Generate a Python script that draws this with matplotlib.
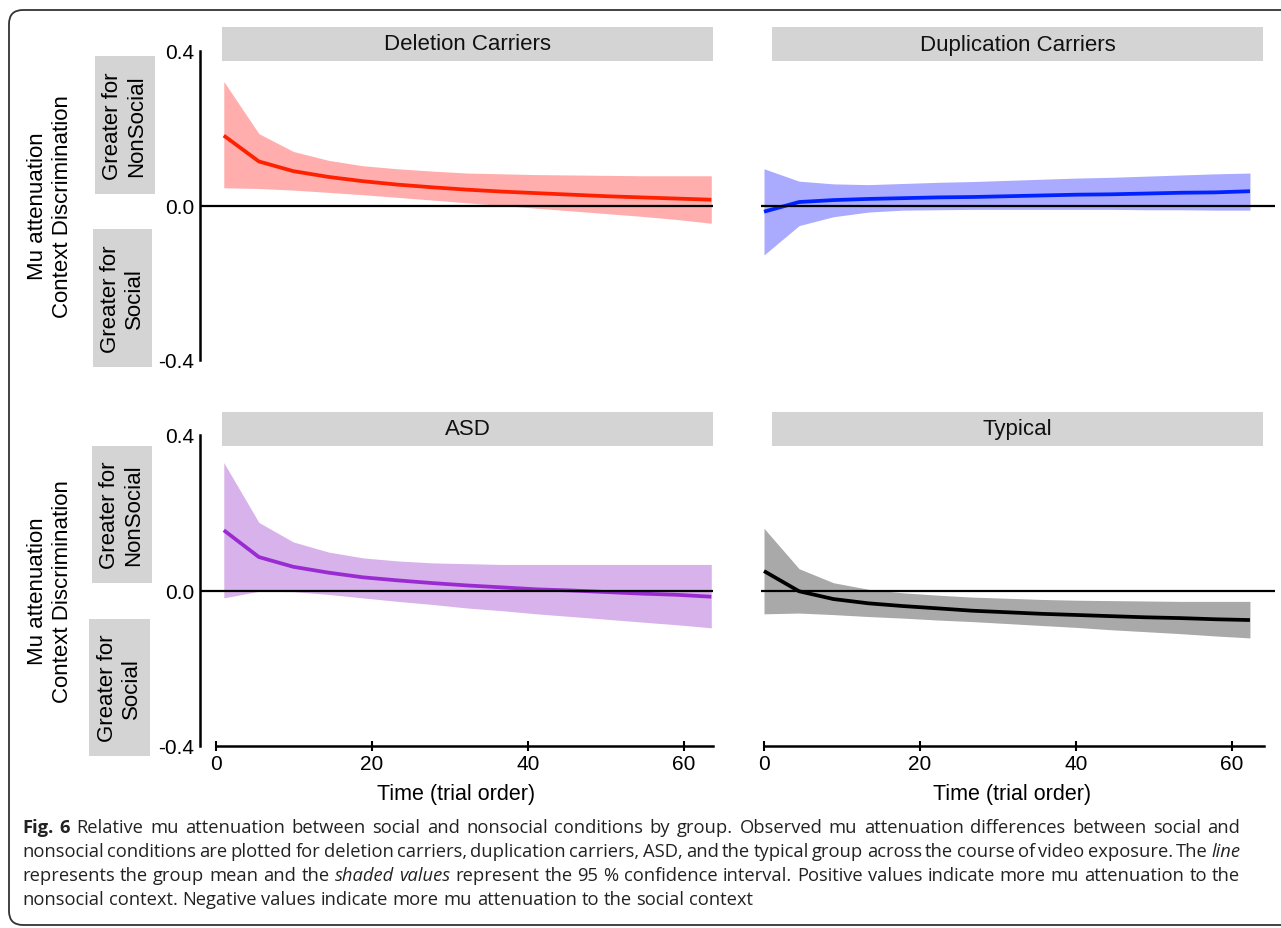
import matplotlib
matplotlib.use('Agg')
import matplotlib.pyplot as plt
from matplotlib.patches import Rectangle, FancyBboxPatch
from matplotlib.transforms import IdentityTransform

plt.rcParams['font.family'] = ['Liberation Sans', 'DejaVu Sans']

# ---------------- data ----------------
x_left = [1.0, 5.5, 9.9, 14.4, 18.8, 23.3, 27.8, 32.2, 36.7, 41.1, 45.6, 50.1, 54.5, 59.0, 63.5]
x_right = [0.0, 4.5, 8.9, 13.4, 17.8, 22.3, 26.7, 31.2, 35.6, 40.1, 44.5, 49.0, 53.4, 57.9, 62.3]

del_mean = [0.181, 0.114, 0.089, 0.074, 0.063, 0.054, 0.047, 0.041, 0.036, 0.032, 0.028, 0.024, 0.021, 0.018, 0.015]
del_hi = [0.321, 0.186, 0.140, 0.117, 0.103, 0.095, 0.089, 0.084, 0.082, 0.080, 0.079, 0.078, 0.077, 0.077, 0.077]
del_lo = [0.046, 0.044, 0.040, 0.034, 0.028, 0.021, 0.014, 0.007, 0.000, -0.007, -0.014, -0.021, -0.028, -0.036, -0.046]

dup_mean = [-0.016, 0.009, 0.014, 0.017, 0.019, 0.021, 0.022, 0.024, 0.026, 0.028, 0.029, 0.031, 0.033, 0.034, 0.037]
dup_hi = [0.095, 0.063, 0.056, 0.054, 0.057, 0.060, 0.062, 0.065, 0.068, 0.071, 0.073, 0.076, 0.079, 0.082, 0.084]
dup_lo = [-0.128, -0.052, -0.029, -0.017, -0.012, -0.011, -0.010, -0.010, -0.010, -0.010, -0.010, -0.011, -0.011, -0.012, -0.012]

asd_mean = [0.155, 0.086, 0.061, 0.046, 0.034, 0.026, 0.019, 0.013, 0.008, 0.003, 0.000, -0.004, -0.008, -0.011, -0.016]
asd_hi = [0.329, 0.175, 0.125, 0.099, 0.084, 0.076, 0.071, 0.069, 0.067, 0.067, 0.067, 0.067, 0.067, 0.067, 0.067]
asd_lo = [-0.019, -0.002, -0.003, -0.010, -0.019, -0.028, -0.036, -0.045, -0.052, -0.060, -0.067, -0.074, -0.081, -0.088, -0.096]

typ_mean = [0.050, -0.002, -0.022, -0.033, -0.040, -0.046, -0.052, -0.056, -0.060, -0.063, -0.066, -0.069, -0.071, -0.074, -0.076]
typ_hi = [0.160, 0.056, 0.020, 0.003, -0.006, -0.012, -0.017, -0.020, -0.023, -0.025, -0.026, -0.027, -0.028, -0.028, -0.028]
typ_lo = [-0.060, -0.058, -0.062, -0.067, -0.071, -0.076, -0.080, -0.085, -0.090, -0.095, -0.101, -0.106, -0.111, -0.117, -0.122]

titles = ["Deletion Carriers", "Duplication Carriers", "ASD", "Typical"]
y_ticks = [-0.4, 0.0, 0.4]
y_ticklabels = ["-0.4", "0.0", "0.4"]
x_ticks = [0, 20, 40, 60]
x_label = "Time (trial order)"
y_label = "Mu attenuation\nContext Discrimination"
box_top = "Greater for\nNonSocial"
box_bot = "Greater for\nSocial"

caption = [
    [("Fig. 6", "bold"), (" Relative mu attenuation between social and nonsocial conditions by group. Observed mu attenuation differences between social and", "normal")],
    [("nonsocial conditions are plotted for deletion carriers, duplication carriers, ASD, and the typical group across the course of video exposure. The ", "normal"), ("line", "italic")],
    [("represents the group mean and the ", "normal"), ("shaded values", "italic"), (" represent the 95 % confidence interval. Positive values indicate more mu attenuation to the", "normal")],
    [("nonsocial context. Negative values indicate more mu attenuation to the social context", "normal")],
]

# ---------------- figure ----------------
W, H = 1281, 929
fig = plt.figure(figsize=(W / 100, H / 100), dpi=100)
fig.patch.set_facecolor('white')

def fx(px):
    return px / W

def fy(py):
    return 1 - py / H

# outer rounded frame (right side runs off canvas)
frame = FancyBboxPatch((9, H - 926), 1300, 915, boxstyle="round,pad=0,rounding_size=14",
                       transform=IdentityTransform(), facecolor='none', edgecolor='#333333',
                       linewidth=1.3, zorder=0)
fig.patches.append(frame)

PX = 7.8  # pixels per trial unit
panels = [
    dict(title=titles[0], x=x_left, m=del_mean, lo=del_lo, hi=del_hi, line='#ff2000', fill='#ffadad',
         px=(200, 713), py=(52, 361), zero=216, strip=(222, 713, 28, 62), left=True, bottom=False),
    dict(title=titles[1], x=x_right, m=dup_mean, lo=dup_lo, hi=dup_hi, line='#0022ff', fill='#aaaaff',
         px=(761, 1275), py=(52, 361), zero=764, strip=(772, 1263, 28, 62), left=False, bottom=False),
    dict(title=titles[2], x=x_left, m=asd_mean, lo=asd_lo, hi=asd_hi, line='#9a2bd2', fill='#d8b2ea',
         px=(200, 713), py=(436, 747), zero=216, strip=(222, 713, 413, 447), left=True, bottom=True,
         xend=713),
    dict(title=titles[3], x=x_right, m=typ_mean, lo=typ_lo, hi=typ_hi, line='#000000', fill='#a9a9a9',
         px=(761, 1275), py=(436, 747), zero=764, strip=(772, 1263, 413, 447), left=False, bottom=True,
         xend=1264),
]

for p in panels:
    x0, x1 = p['px']
    y0, y1 = p['py']
    ax = fig.add_axes([fx(x0), fy(y1), (x1 - x0) / W, (y1 - y0) / H])
    ax.set_facecolor('none')
    ax.fill_between(p['x'], p['lo'], p['hi'], color=p['fill'], linewidth=0, zorder=1)
    ax.plot(p['x'], p['m'], color=p['line'], lw=2.7, zorder=2, solid_capstyle='butt')
    ax.axhline(0, color='black', lw=1.6, zorder=3)
    ax.set_xlim((x0 - p['zero']) / PX, (x1 - p['zero']) / PX)
    ax.set_ylim(-0.4, 0.4)
    for s in ax.spines.values():
        s.set_visible(False)
    if p['left']:
        ax.spines['left'].set_visible(True)
        ax.spines['left'].set_linewidth(1.8)
        ax.spines['left'].set_bounds(-0.4, 0.4)
        ax.set_yticks(y_ticks)
        ax.set_yticklabels(y_ticklabels)
        ax.tick_params(axis='y', length=0, pad=4, labelsize=15)
    else:
        ax.set_yticks([])
    if p['bottom']:
        ax.spines['bottom'].set_visible(True)
        ax.spines['bottom'].set_linewidth(1.8)
        ax.spines['bottom'].set_bounds(0, (p['xend'] - p['zero']) / PX)
        ax.set_xticks(x_ticks)
        ax.tick_params(axis='x', direction='inout', length=7, width=1.5, pad=2, labelsize=15)
    else:
        ax.set_xticks([])
    # strip
    sx0, sx1, sy0, sy1 = p['strip']
    fig.patches.append(Rectangle((fx(sx0), fy(sy1)), (sx1 - sx0) / W, (sy1 - sy0) / H,
                                 transform=fig.transFigure, facecolor='#d4d4d4', edgecolor='none', zorder=1))
    fig.text(fx((sx0 + sx1) / 2), fy((sy0 + sy1) / 2), p['title'], ha='center', va='center',
             fontsize=16, color='#111111')

# x labels
fig.text(fx(456.5), fy(795), x_label, ha='center', va='center', fontsize=15.5)
fig.text(fx(1012), fy(795), x_label, ha='center', va='center', fontsize=15.5)

# y labels
for yc in (206.5, 591.5):
    fig.text(fx(50), fy(yc), y_label, rotation=90, ha='center', va='center', fontsize=16,
             linespacing=1.2, multialignment='center')

# gray annotation boxes
boxes = [
    (95, 155, 57, 195, box_top), (93, 152, 230, 368, box_bot),
    (92, 152, 447, 584, box_top), (89, 150, 620, 757, box_bot),
]
for bx0, bx1, by0, by1, txt in boxes:
    fig.patches.append(Rectangle((fx(bx0), fy(by1)), (bx1 - bx0) / W, (by1 - by0) / H,
                                 transform=fig.transFigure, facecolor='#d4d4d4', edgecolor='none', zorder=1))
    fig.text(fx((bx0 + bx1) / 2), fy((by0 + by1) / 2), txt, rotation=90, ha='center', va='center',
             fontsize=16, linespacing=1.2, multialignment='center')

# caption (justified paragraph, last line ragged)
renderer = fig.canvas.get_renderer()
cap_family = ['Open Sans', 'DejaVu Sans']

def style_kw(size, style):
    kw = dict(fontsize=size, family=cap_family)
    if style == 'bold':
        kw['weight'] = 'bold'
    elif style == 'italic':
        kw['style'] = 'italic'
    return kw

def text_width(s, size, style):
    kw = style_kw(size, style)
    t1 = fig.text(0, 0, s + '|', **kw)
    t2 = fig.text(0, 0, '|', **kw)
    w = t1.get_window_extent(renderer).width - t2.get_window_extent(renderer).width
    t1.remove()
    t2.remove()
    return w

base = 12.0
w4 = text_width(caption[3][0][0], base, 'normal')
cap_size = base * 726.0 / w4
space_w = text_width(' ', cap_size, 'normal')

line_y = [828, 852, 876, 900]
x_start, x_right_edge = 22.0, 1240.0
for li, (runs, yy) in enumerate(zip(caption, line_y)):
    words = []
    for s, style in runs:
        for part in s.split(' '):
            if part:
                words.append((part, style, text_width(part, cap_size, style)))
    nat = sum(w for _, _, w in words) + space_w * (len(words) - 1)
    if li < len(caption) - 1:
        gap = space_w + (x_right_edge - x_start - nat) / (len(words) - 1)
    else:
        gap = space_w
    xx = x_start
    for part, style, w in words:
        kw = style_kw(cap_size, style)
        fig.text(fx(xx), fy(yy), part, color='#222222', ha='left', va='center', **kw)
        xx += w + gap

fig.savefig('out.png', dpi=100)
